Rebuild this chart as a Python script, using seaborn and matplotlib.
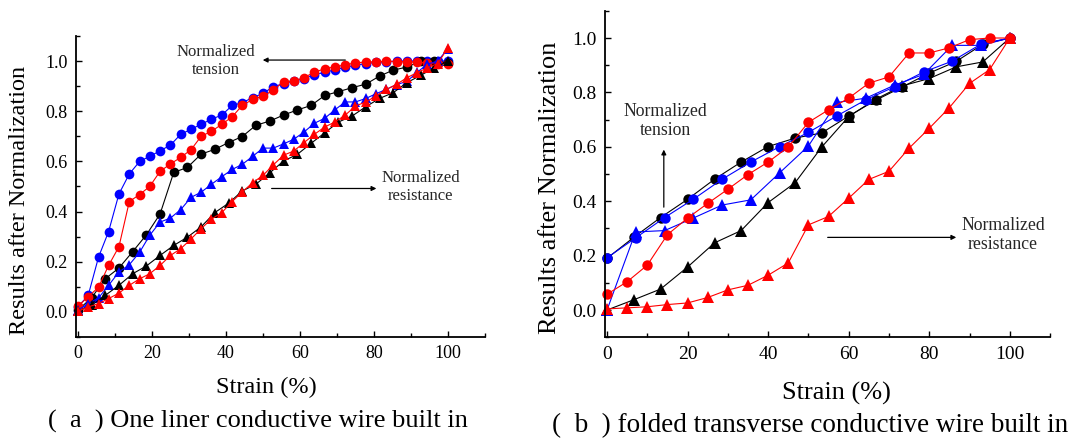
import numpy as np
import pandas as pd
import matplotlib
matplotlib.use("Agg")
import matplotlib.pyplot as plt
import seaborn as sns
from matplotlib.ticker import MultipleLocator

# ---- panel (a): one liner conductive wire ----
x_a_fine = [0, 2.8, 5.6, 8.3, 11.1, 13.9, 16.7, 19.4, 22.2, 25.0, 27.8, 30.6, 33.3,
            36.1, 38.9, 41.7, 44.4, 47.2, 50.0, 52.8, 55.6, 58.3, 61.1, 63.9, 66.7,
            69.4, 72.2, 75.0, 77.8, 80.6, 83.3, 86.1, 88.9, 91.7, 94.4, 97.2, 100]
x_a_coarse = [0, 3.7, 7.4, 11.1, 14.8, 18.5, 22.2, 25.9, 29.6, 33.3, 37.0, 40.7, 44.4,
              48.1, 51.9, 55.6, 59.3, 63.0, 66.7, 70.4, 74.1, 77.8, 81.5, 85.2, 88.9,
              92.6, 96.3, 100]

a_blue_circle = [0.02, 0.066, 0.219, 0.32, 0.47, 0.55, 0.60, 0.62, 0.642, 0.665, 0.708,
                 0.728, 0.748, 0.768, 0.785, 0.823, 0.834, 0.854, 0.871, 0.898, 0.91,
                 0.92, 0.93, 0.945, 0.955, 0.965, 0.975, 0.983, 0.99, 0.995, 0.997,
                 1.0, 1.0, 1.0, 1.0, 1.0, 1.0]
a_red_circle = [0.023, 0.06, 0.099, 0.185, 0.26, 0.44, 0.468, 0.50, 0.56, 0.59, 0.616,
                0.647, 0.70, 0.72, 0.748, 0.778, 0.823, 0.847, 0.86, 0.884, 0.918, 0.92,
                0.934, 0.956, 0.969, 0.977, 0.985, 0.993, 0.996, 0.997, 1.0, 0.998,
                0.998, 0.995, 0.993, 0.99, 0.99]
a_black_circle = [0.007, 0.056, 0.132, 0.175, 0.24, 0.307, 0.39, 0.556, 0.576, 0.629,
                  0.648, 0.675, 0.699, 0.744, 0.761, 0.785, 0.805, 0.823, 0.863, 0.878,
                  0.894, 0.908, 0.94, 0.964, 0.976, 0.999, 0.999, 0.993]
a_blue_tri = [0.007, 0.033, 0.056, 0.106, 0.159, 0.188, 0.238, 0.305, 0.358, 0.374,
              0.408, 0.457, 0.477, 0.509, 0.539, 0.568, 0.588, 0.62, 0.653, 0.653, 0.67,
              0.688, 0.717, 0.752, 0.772, 0.805, 0.837, 0.837, 0.851, 0.87, 0.887,
              0.906, 0.919, 0.956, 0.987, 1.0, 1.05]
a_black_tri = [0.003, 0.026, 0.066, 0.106, 0.152, 0.183, 0.225, 0.265, 0.298, 0.339,
               0.396, 0.433, 0.482, 0.509, 0.555, 0.602, 0.628, 0.672, 0.714, 0.757,
               0.781, 0.818, 0.851, 0.874, 0.914, 0.943, 0.973, 1.0]
a_red_tri = [0.003, 0.02, 0.033, 0.053, 0.075, 0.106, 0.132, 0.152, 0.185, 0.225, 0.252,
             0.291, 0.332, 0.37, 0.396, 0.44, 0.478, 0.515, 0.544, 0.586, 0.625, 0.641,
             0.675, 0.708, 0.737, 0.757, 0.784, 0.821, 0.837, 0.861, 0.887, 0.907,
             0.934, 0.954, 0.973, 0.99, 1.053]

# ---- panel (b): folded transverse conductive wire ----
x_b_red = [0, 5, 10, 15, 20, 25, 30, 35, 40, 45, 50, 55, 60, 65, 70, 75, 80, 85, 90, 95, 100]
x_b_black = [0, 6.7, 13.3, 20, 26.7, 33.3, 40, 46.7, 53.3, 60, 66.7, 73.3, 80, 86.7, 93.3, 100]
x_b_blue = [0, 7.1, 14.3, 21.4, 28.6, 35.7, 42.9, 50, 57.1, 64.3, 71.4, 78.6, 85.7, 92.9, 100]

b_black_circle = [0.19, 0.268, 0.34, 0.407, 0.481, 0.544, 0.601, 0.632, 0.651, 0.713,
                  0.771, 0.82, 0.871, 0.914, 0.977, 1.0]
b_black_tri = [0.0, 0.038, 0.077, 0.158, 0.247, 0.292, 0.395, 0.468, 0.599, 0.711, 0.775,
               0.824, 0.851, 0.894, 0.912, 1.0]
b_blue_circle = [0.192, 0.265, 0.34, 0.407, 0.481, 0.544, 0.601, 0.653, 0.714, 0.773,
                 0.821, 0.875, 0.915, 0.978, 1.0]
b_blue_tri = [0.0, 0.287, 0.292, 0.338, 0.386, 0.405, 0.505, 0.603, 0.763, 0.779, 0.827,
              0.866, 0.973, 0.973, 1.0]
b_red_circle = [0.058, 0.104, 0.165, 0.277, 0.338, 0.392, 0.444, 0.498, 0.544, 0.599,
                0.69, 0.736, 0.779, 0.834, 0.857, 0.945, 0.945, 0.964, 0.994, 1.0, 1.0]
b_red_tri = [0.004, 0.008, 0.012, 0.02, 0.026, 0.046, 0.074, 0.091, 0.128, 0.173, 0.313,
             0.344, 0.411, 0.48, 0.51, 0.595, 0.668, 0.744, 0.833, 0.884, 1.0]

sns.set_theme(style="ticks")
plt.rcParams["font.family"] = ["Liberation Serif", "DejaVu Serif"]


def draw(ax, x, y, color, marker, ms):
    df = pd.DataFrame({"x": x, "y": y})
    sns.lineplot(data=df, x="x", y="y", ax=ax, color=color, marker=marker,
                 markersize=ms, markeredgewidth=0, linewidth=0.8,
                 estimator=None, sort=False, clip_on=False, legend=False)


def style_axes(ax, tick_fs, label_fs):
    ax.set_xlim(-0.5, 110)
    ax.set_ylim(-0.1, 1.1)
    ax.xaxis.set_minor_locator(MultipleLocator(10))
    ax.yaxis.set_minor_locator(MultipleLocator(0.1))
    ax.set_xticks([0, 20, 40, 60, 80, 100])
    ax.set_yticks([0.0, 0.2, 0.4, 0.6, 0.8, 1.0])
    ax.set_yticklabels(["0.0", "0.2", "0.4", "0.6", "0.8", "1.0"])
    ax.tick_params(which="both", direction="in", width=1.0, labelsize=tick_fs, pad=6,
                   colors="black")
    ax.tick_params(which="major", length=4.5)
    ax.tick_params(which="minor", length=3)
    for side in ["top", "right"]:
        ax.spines[side].set_visible(False)
    for side in ["left", "bottom"]:
        ax.spines[side].set_linewidth(1.3)
        ax.spines[side].set_color("black")
    ax.set_xlabel("Strain (%)", fontsize=label_fs, color="black")
    ax.set_ylabel("Results after Normalization", fontsize=label_fs, color="black")
    ax.xaxis.label.set_va("center")
    ax.yaxis.label.set_va("center")


fig = plt.figure(figsize=(10.75, 4.43), dpi=100)
ax_a = fig.add_axes([0.0707, 0.2393, 0.3805, 0.6795])
ax_b = fig.add_axes([0.5628, 0.2388, 0.414, 0.7368])

# panel a
draw(ax_a, x_a_fine, a_blue_circle, "#0000ff", "o", 7)
draw(ax_a, x_a_coarse, a_black_circle, "black", "o", 7)
draw(ax_a, x_a_fine, a_red_circle, "#ff0000", "o", 7)
draw(ax_a, x_a_fine, a_blue_tri, "#0000ff", "^", 7.5)
draw(ax_a, x_a_coarse, a_black_tri, "black", "^", 7.5)
draw(ax_a, x_a_fine, a_red_tri, "#ff0000", "^", 7.5)
style_axes(ax_a, 13, 17.5)
ax_a.xaxis.set_label_coords(0.465, -0.166)
ax_a.yaxis.set_label_coords(-0.139, 0.455)

ax_a.text(37.2, 1.0, "Normalized\ntension", fontsize=12, ha="center", va="center",
          linespacing=1.15)
ax_a.annotate("", xy=(49.2, 1.004), xytext=(73, 1.004),
              arrowprops=dict(arrowstyle="-|>", color="black", lw=0.9,
                              mutation_scale=7))
ax_a.text(92.6, 0.499, "Normalized\nresistance", fontsize=12, ha="center", va="center",
          linespacing=1.15)
ax_a.annotate("", xy=(81.4, 0.492), xytext=(51.6, 0.492),
              arrowprops=dict(arrowstyle="-|>", color="black", lw=0.9,
                              mutation_scale=7))

# panel b
draw(ax_b, x_b_black, b_black_circle, "black", "o", 7.5)
draw(ax_b, x_b_black, b_black_tri, "black", "^", 8)
draw(ax_b, x_b_blue, b_blue_circle, "#0000ff", "o", 7.5)
draw(ax_b, x_b_blue, b_blue_tri, "#0000ff", "^", 8)
draw(ax_b, x_b_red, b_red_circle, "#ff0000", "o", 7.5)
draw(ax_b, x_b_red, b_red_tri, "#ff0000", "^", 8)
style_axes(ax_b, 14, 19)
ax_b.xaxis.set_label_coords(0.52, -0.171)
ax_b.yaxis.set_label_coords(-0.124, 0.459)

ax_b.text(14.6, 0.694, "Normalized\ntension", fontsize=12.8, ha="center", va="center",
          linespacing=1.15)
ax_b.annotate("", xy=(14.1, 0.60), xytext=(14.1, 0.368),
              arrowprops=dict(arrowstyle="-|>", color="black", lw=0.9,
                              mutation_scale=7))
ax_b.text(98.3, 0.276, "Normalized\nresistance", fontsize=12.8, ha="center", va="center",
          linespacing=1.15)
ax_b.annotate("", xy=(87.4, 0.267), xytext=(54.1, 0.267),
              arrowprops=dict(arrowstyle="-|>", color="black", lw=0.9,
                              mutation_scale=7))

# captions
fig.text(258 / 1075, 1 - 421 / 443, "(  a  ) One liner conductive wire built in",
         fontsize=19, ha="center", va="center", color="black")
fig.text(810 / 1075, 1 - 426 / 443, "(  b  ) folded transverse conductive wire built in",
         fontsize=19.5, ha="center", va="center", color="black")

fig.savefig("out.png", dpi=100)
